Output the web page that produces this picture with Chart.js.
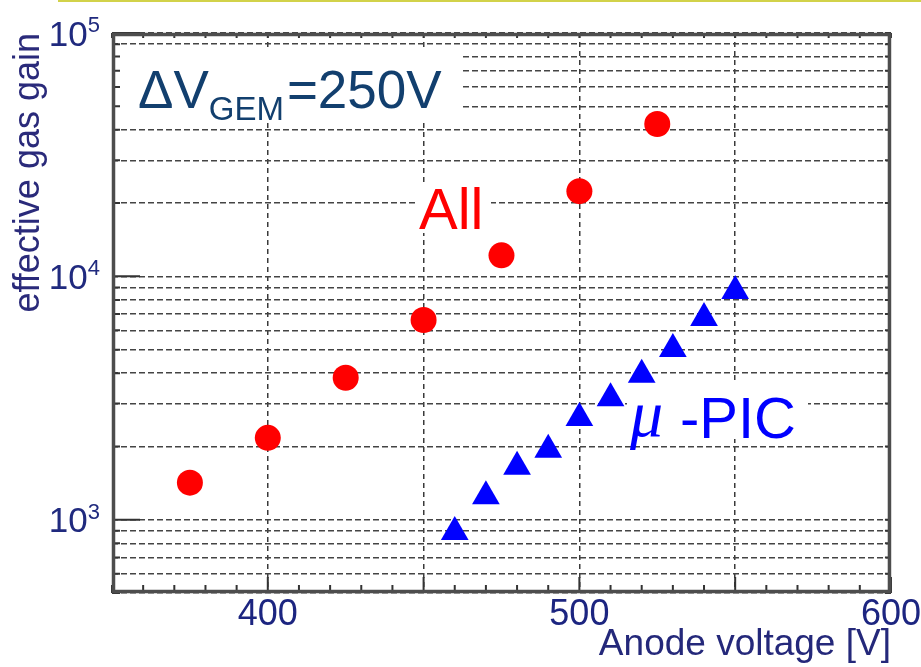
<!DOCTYPE html>
<html><head><meta charset="utf-8">
<script src="https://cdn.jsdelivr.net/npm/chart.js@4"></script>
<style>
html,body{margin:0;padding:0;background:#fff;overflow:hidden;}
#wrap{position:relative;width:921px;height:667px;}
#topline{position:absolute;left:58px;top:0;width:863px;height:2px;background:#d2d24a;}
canvas{display:block;}
</style></head><body>
<div id="wrap"><div id="topline"></div><canvas id="c" width="921" height="667"></canvas></div>
<script>
// ---- data ----
const allVoltage = [375, 400, 425, 450, 475, 500, 525];
const allGain    = [1420, 2170, 3830, 6620, 12200, 22400, 42300];
const picVoltage = [460, 470, 480, 490, 500, 510, 520, 530, 540, 550];
const picGain    = [890, 1250, 1650, 1940, 2620, 3160, 3940, 5030, 6750, 8700];

// ---- ticks ----
const xTickValues = [350,360,370,380,390,400,410,420,430,440,450,460,470,480,490,500,510,520,530,540,550,560,570,580,590,600];
const xGridValues = [400, 450, 500, 550];
const xLabelValues = [400, 500, 600];
const xLabelTexts  = ['400', '500', '600'];
const yGridValues = [500,600,700,800,900,1000,2000,3000,4000,5000,6000,7000,8000,9000,10000,20000,30000,40000,50000,60000,70000,80000,90000,100000];
const yLabelValues = [1000, 10000, 100000];
const yLabelBase = '10';
const yLabelExponents = ['3', '4', '5'];

const SANS = '"Liberation Sans", Arial, sans-serif';

const decor = {
  id: 'decor',
  beforeDatasetsDraw(chart) {
    const {ctx, chartArea: a, scales: {x, y}} = chart;
    ctx.save();
    // white backgrounds behind annotations
    ctx.fillStyle = '#fff';
    ctx.fillRect(a.left + 3, 49, 347, 74);
    ctx.fillRect(415, 185, 76, 48);
    ctx.fillRect(627, 381, 181, 58);

    // inner tick marks
    ctx.strokeStyle = '#333';
    ctx.lineWidth = 2;
    ctx.beginPath();
    xTickValues.forEach(v => {
      const px = x.getPixelForValue(v);
      const len = (xGridValues.includes(v) || xLabelValues.includes(v)) ? 16 : 8;
      ctx.moveTo(px, a.bottom); ctx.lineTo(px, a.bottom - len);
      ctx.moveTo(px, a.top); ctx.lineTo(px, a.top + 5);
    });
    yGridValues.forEach(v => {
      const py = y.getPixelForValue(v);
      const len = yLabelValues.includes(v) ? 28 : 8;
      ctx.moveTo(a.left, py); ctx.lineTo(a.left + len, py);
      ctx.moveTo(a.right, py); ctx.lineTo(a.right - 6, py);
    });
    ctx.stroke();

    // frame
    ctx.strokeStyle = '#4d4d4d';
    ctx.lineWidth = 3.5;
    ctx.strokeRect(a.left + 1.5, a.top + 1.5, a.right - a.left - 3, a.bottom - a.top - 3);

    // y tick labels 10^n
    ctx.fillStyle = '#202a7e';
    ctx.textBaseline = 'alphabetic';
    ctx.textAlign = 'right';
    yLabelValues.forEach((v, i) => {
      const py = y.getPixelForValue(v);
      const right = a.left - 12;
      ctx.font = '22px ' + SANS;
      const ew = ctx.measureText(yLabelExponents[i]).width;
      ctx.fillText(yLabelExponents[i], right, py - 1);
      ctx.font = '35px ' + SANS;
      ctx.fillText(yLabelBase, right - ew, py + 12.5);
    });

    // annotation: ΔV_GEM=250V
    ctx.textAlign = 'left';
    ctx.fillStyle = '#123f6e';
    let cx = 138;
    ctx.font = '53px ' + SANS;
    ctx.fillText('\u0394V', cx, 108);
    cx += ctx.measureText('\u0394V').width;
    ctx.font = '33px ' + SANS;
    ctx.fillText('GEM', cx, 120);
    cx += ctx.measureText('GEM').width + 3;
    ctx.font = '53px ' + SANS;
    ctx.fillText('=250V', cx, 108);

    // annotation: All
    ctx.fillStyle = '#ff0000';
    ctx.font = '58px ' + SANS;
    ctx.fillText('All', 419, 229);

    // annotation: μ-PIC
    ctx.fillStyle = '#0000ff';
    ctx.font = 'italic 66px "Liberation Serif", "Times New Roman", serif';
    ctx.fillText('\u03bc', 630, 436);
    ctx.font = '58px ' + SANS;
    ctx.fillText('-PIC', 680, 438);
    ctx.restore();
  }
};

new Chart(document.getElementById('c'), {
  type: 'scatter',
  data: {
    datasets: [
      {
        label: 'All',
        data: allVoltage.map((v, i) => ({x: v, y: allGain[i]})),
        pointStyle: 'circle',
        pointRadius: 13,
        pointHoverRadius: 13,
        backgroundColor: '#ff0000',
        borderColor: '#ff0000',
        borderWidth: 0
      },
      {
        label: '\u03bc-PIC',
        data: picVoltage.map((v, i) => ({x: v, y: picGain[i]})),
        pointStyle: 'triangle',
        pointRadius: 16,
        pointHoverRadius: 16,
        backgroundColor: '#0000ff',
        borderColor: '#0000ff',
        borderWidth: 0
      }
    ]
  },
  options: {
    responsive: false,
    animation: false,
    devicePixelRatio: 1,
    layout: {padding: {left: 0, right: 30, top: 33, bottom: 0}},
    plugins: {legend: {display: false}, tooltip: {enabled: false}},
    scales: {
      x: {
        type: 'linear',
        position: 'bottom',
        min: 350, max: 600,
        afterBuildTicks: s => { s.ticks = xTickValues.map(v => ({value: v})); },
        afterFit: s => { s.height = 74; },
        grid: {
          drawTicks: false,
          lineWidth: 1.5,
          color: c => (c.tick && xGridValues.includes(c.tick.value)) ? '#3a3a3a' : 'rgba(0,0,0,0)'
        },
        border: {display: false, dash: [5, 4]},
        ticks: {
          autoSkip: false,
          maxRotation: 0,
          padding: 0,
          color: '#1c2580',
          font: {family: SANS, size: 36},
          callback: v => { const k = xLabelValues.indexOf(v); return k >= 0 ? xLabelTexts[k] : ''; }
        },
        title: {
          display: true,
          text: 'Anode voltage [V]',
          align: 'end',
          color: '#24287a',
          font: {family: SANS, size: 37},
          padding: {top: 0, bottom: 0}
        }
      },
      y: {
        type: 'logarithmic',
        position: 'left',
        min: 500, max: 100000,
        afterBuildTicks: s => { s.ticks = yGridValues.map(v => ({value: v})); },
        afterFit: s => { s.width = 112; },
        grid: {drawTicks: false, lineWidth: 1.5, color: '#444'},
        border: {display: false, dash: [6, 3]},
        ticks: {display: false, autoSkip: false},
        title: {
          display: true,
          text: 'effective gas gain',
          align: 'end',
          color: '#2a2a7a',
          font: {family: SANS, size: 36},
          padding: {top: 7, bottom: 0}
        }
      }
    }
  },
  plugins: [decor]
});
</script>
</body></html>
